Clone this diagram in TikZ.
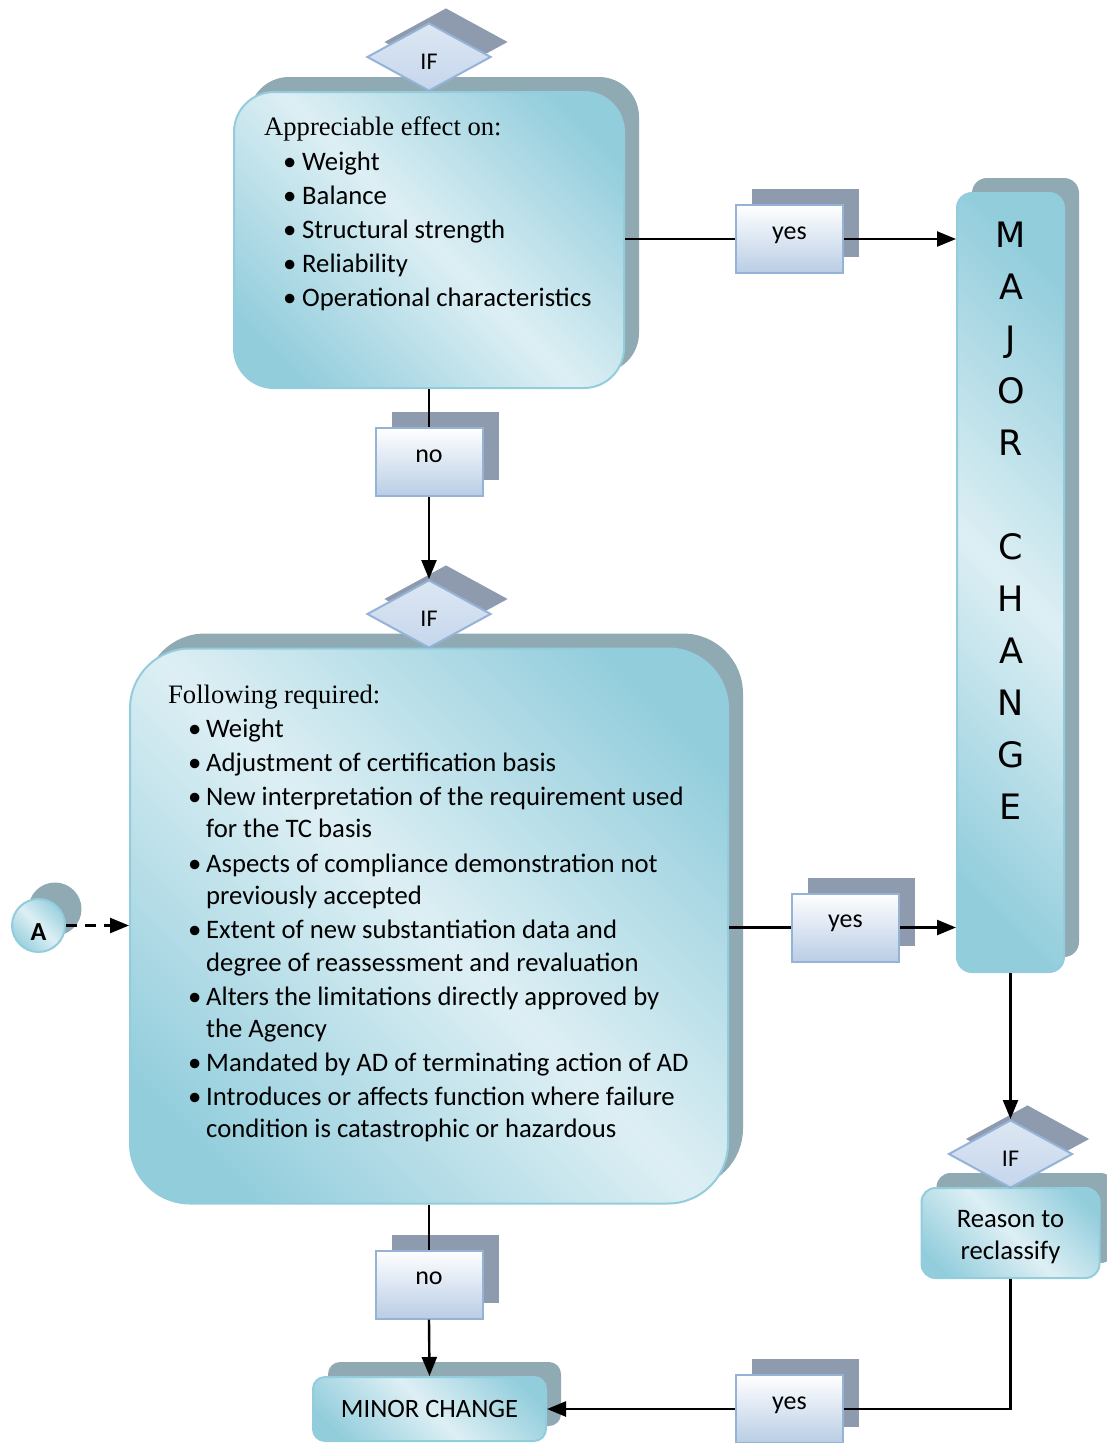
\documentclass[tikz,border=0pt]{standalone}
\usepackage{fontspec}
\setmainfont{Carlito}
\newfontfamily\titlefont{Liberation Serif}
\newfontfamily\letterfont{DejaVu Sans}
\usetikzlibrary{shapes.geometric,shadows,arrows.meta}

\definecolor{tealdark}{HTML}{92CDDC}
\definecolor{teallight}{HTML}{DDEFF4}
\definecolor{tealedge}{HTML}{93CDDD}
\definecolor{tealshade}{HTML}{8FAAB3}
\definecolor{slateshade}{HTML}{8E9BAE}
\definecolor{chipedge}{HTML}{95B3D7}
\definecolor{chipbottom}{HTML}{B9CDE5}
\definecolor{diatop}{HTML}{DDE7F3}
\definecolor{diabottom}{HTML}{C5D6EC}

\pgfdeclarehorizontalshading{tealband}{100bp}{%
  color(0bp)=(tealdark); color(22bp)=(tealdark); color(50bp)=(teallight);
  color(78bp)=(tealdark); color(100bp)=(tealdark)}

\tikzset{
  txt/.style={font=\fontsize{26.7}{32}\selectfont, inner sep=0pt},
  ttl/.style={font=\titlefont\fontsize{26.6}{32}\selectfont, inner sep=0pt},
  tealbox/.style={draw=tealedge, line width=2pt, shading=tealband, shading angle=45,
    rounded corners=#1, inner sep=0pt,
    general shadow={fill=tealshade, shadow xshift=15pt, shadow yshift=15pt}},
  chip/.style={rectangle, draw=chipedge, line width=2pt, top color=white,
    bottom color=chipbottom, minimum width=107pt, minimum height=68pt,
    text height=10pt, text depth=10pt, font=\fontsize{26}{30}\selectfont,
    general shadow={fill=slateshade, shadow xshift=16pt, shadow yshift=16pt}},
  dia/.style={diamond, aspect=1.82, minimum width=124pt, minimum height=68pt,
    inner sep=0pt, draw=chipedge, line width=2pt, top color=diatop,
    bottom color=diabottom, text height=25pt, text depth=0pt,
    font=\fontsize{24}{28}\selectfont,
    general shadow={fill=slateshade, shadow xshift=17pt, shadow yshift=15pt}},
  bigletter/.style={font=\letterfont\fontsize{35}{40}\selectfont, inner sep=0pt,
    text height=25pt, text depth=0pt},
  link/.style={line width=2.4pt},
  arrowlink/.style={line width=2.4pt, -{Triangle[length=19pt,width=15pt]}},
}

\begin{document}
\begin{tikzpicture}[x=1pt,y=-1pt]
\useasboundingbox (0,0) rectangle (1106,1443);

% rounded teal boxes
\node[tealbox=40pt, minimum width=390pt, minimum height=296pt] (box1) at (429,240) {};
\node[tealbox=60pt, minimum width=598pt, minimum height=555pt] (box2) at (429,926) {};
\node[tealbox=15pt, minimum width=107pt, minimum height=779pt] (major) at (1010.5,582.5) {};
\node[tealbox=14pt, minimum width=178pt, minimum height=90pt] (reason) at (1010.5,1233) {};
\node[tealbox=12pt, minimum width=233pt, minimum height=64pt, text height=16pt,
      text depth=0pt, font=\fontsize{26.5}{30}\selectfont] (minor) at (429.5,1409) {MINOR CHANGE};

% connector circle
\node[circle, draw=tealedge, line width=2pt, shading=tealband, shading angle=45,
      minimum size=53pt, inner sep=0pt, text height=29pt, text depth=0pt,
      font=\bfseries\fontsize{26}{30}\selectfont,
      general shadow={fill=tealshade, shadow xshift=16.5pt, shadow yshift=16.5pt}]
      (A) at (38.5,925.5) {A};

% decisions
\node[dia] (if1) at (429,57) {IF};
\node[dia] (if2) at (429,614) {IF};
\node[dia] (if3) at (1010.5,1154) {IF};

% yes / no labels
\node[chip] (yes1) at (789.5,239) {yes};
\node[chip] (no1) at (429,462) {no};
\node[chip] (yes2) at (845.5,927.5) {yes};
\node[chip] (no2) at (429,1284.5) {no};
\node[chip] (yes3) at (789.5,1409) {yes};

% text of the first condition
\node[ttl, anchor=base west] (h1) at (264,135) {Appreciable effect on:};
\foreach \t [count=\i] in {Weight,Balance,Structural strength,Reliability,Operational characteristics}
  \node[txt, anchor=base west] (p\i) at (283,136+34*\i) {\makebox[19pt][l]{\textbullet}\t};

% text of the second condition
\node[ttl, anchor=base west] (h2) at (168,703) {Following required:};
\foreach \y/\t [count=\i] in {737/Weight,
    771/Adjustment of certification basis,
    805/New interpretation of the requirement used,
    872/Aspects of compliance demonstration not,
    938/Extent of new substantiation data and,
    1005/Alters the limitations directly approved by,
    1071/Mandated by AD of terminating action of AD,
    1105/Introduces or affects function where failure}
  \node[txt, anchor=base west] (q\i) at (188,\y) {\makebox[18pt][l]{\textbullet}\t};
\foreach \y/\t [count=\i] in {837/for the TC basis,
    904/previously accepted,
    971/degree of reassessment and revaluation,
    1037/the Agency,
    1137/condition is catastrophic or hazardous}
  \node[txt, anchor=base west] (r\i) at (206,\y) {\t};

% vertical MAJOR CHANGE lettering
\foreach \ch/\k in {M/0,A/1,J/2,O/3,R/4,C/6,H/7,A/8,N/9,G/10,E/11}
  \node[bigletter] (ml\k) at (1011,235+52*\k) {\ch};

% reclassification text
\node[txt, anchor=base] (rs1) at (1010.5,1227) {Reason to};
\node[txt, anchor=base] (rs2) at (1010.5,1259) {reclassify};

% connectors
\draw[link] (box1.east |- yes1) -- (yes1.west);
\draw[arrowlink] (yes1.east) -- (yes1.east -| major.west);
\draw[link] (box1.south) -- (no1.north);
\draw[arrowlink] (no1.south) -- (if2.north);
\draw[link] (box2.east |- yes2) -- (yes2.west);
\draw[arrowlink] (yes2.east) -- (yes2.east -| major.west);
\draw[arrowlink] (major.south) -- (if3.north);
\draw[link] (reason.south) |- (yes3.east);
\draw[arrowlink] (yes3.west) -- (yes3.west -| minor.east);
\draw[link] (box2.south) -- (no2.north);
\draw[arrowlink] (no2.south) -- (minor.north);
\draw[arrowlink, dash pattern=on 11pt off 8pt] (A.east) -- (A.east -| box2.west);
\end{tikzpicture}
\end{document}
